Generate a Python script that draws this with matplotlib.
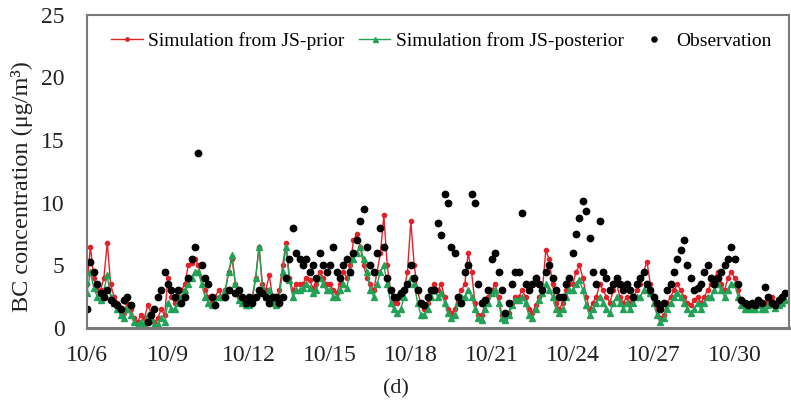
import numpy as np
import matplotlib.pyplot as plt

plt.rcParams['font.family'] = ['Liberation Serif', 'DejaVu Serif']

# 3-hourly values, one row per day from 10/6 to 10/31 (00,03,...,21h)
prior = [
    [3.5, 6.5, 4.0, 3.0, 3.0, 4.0, 6.8, 3.5],
    [2.5, 2.0, 1.5, 1.2, 2.0, 1.5, 0.8, 0.5],
    [1.0, 0.8, 1.8, 1.2, 0.5, 0.8, 1.5, 1.0],
    [4.0, 2.5, 2.0, 2.5, 3.0, 3.5, 5.0, 5.2],
    [5.5, 5.0, 4.0, 3.0, 2.5, 2.0, 2.5, 3.0],
    [2.5, 3.0, 4.5, 5.5, 3.5, 2.5, 2.2, 2.0],
    [2.0, 2.5, 4.0, 6.5, 3.5, 3.0, 4.2, 2.5],
    [2.0, 3.0, 5.0, 6.8, 4.0, 3.0, 3.5, 3.5],
    [3.5, 4.0, 3.8, 3.2, 3.5, 4.5, 4.0, 3.5],
    [3.5, 3.0, 2.8, 3.5, 4.5, 4.0, 5.0, 7.0],
    [7.5, 6.5, 5.0, 4.0, 3.5, 3.0, 4.5, 6.0],
    [9.0, 5.0, 3.0, 2.0, 2.0, 2.5, 3.0, 4.5],
    [8.5, 5.0, 3.0, 1.8, 1.5, 2.0, 3.0, 3.5],
    [3.0, 3.5, 2.5, 1.5, 1.2, 1.5, 2.5, 3.0],
    [3.5, 6.0, 4.5, 2.0, 1.0, 1.0, 2.0, 2.5],
    [3.0, 3.5, 2.5, 1.0, 0.8, 1.2, 2.0, 2.5],
    [2.5, 3.0, 2.5, 1.5, 1.2, 1.8, 2.5, 3.0],
    [6.2, 5.5, 3.5, 2.0, 1.5, 2.0, 3.0, 3.5],
    [3.5, 4.5, 5.0, 4.0, 2.5, 1.5, 2.0, 2.5],
    [3.5, 3.0, 2.5, 2.0, 3.0, 3.5, 2.5, 2.0],
    [2.5, 2.0, 2.5, 3.0, 3.5, 4.5, 5.3, 3.5],
    [2.5, 1.5, 0.8, 1.0, 2.0, 2.5, 3.0, 3.5],
    [3.0, 2.5, 2.0, 1.8, 2.2, 2.5, 2.0, 2.5],
    [3.0, 3.5, 4.0, 4.5, 3.5, 3.0, 4.0, 4.5],
    [4.0, 3.0, 2.2, 2.0, 2.0, 1.8, 1.8, 2.0],
    [1.8, 2.0, 2.2, 2.5, 2.0, 2.2, 2.5, 2.8],
]
posterior = [
    [2.8, 4.5, 3.2, 2.5, 2.2, 3.0, 4.2, 2.5],
    [2.0, 1.5, 1.0, 0.8, 1.5, 1.0, 0.5, 0.2],
    [0.5, 0.3, 1.0, 0.8, 0.2, 0.3, 0.8, 0.5],
    [2.0, 1.5, 1.5, 2.0, 2.5, 3.0, 3.5, 4.0],
    [4.5, 4.5, 3.5, 2.5, 2.0, 1.8, 2.0, 2.5],
    [2.5, 3.0, 4.5, 5.8, 3.5, 2.2, 2.0, 1.8],
    [1.8, 2.2, 4.0, 6.5, 3.2, 2.5, 3.0, 2.0],
    [1.8, 2.5, 4.5, 6.5, 3.8, 2.5, 3.0, 3.0],
    [3.2, 3.5, 3.2, 2.8, 3.0, 4.0, 3.5, 3.0],
    [3.0, 2.5, 2.5, 3.0, 3.5, 3.2, 4.5, 5.5],
    [6.0, 6.5, 5.5, 4.5, 3.0, 2.5, 3.5, 4.5],
    [5.0, 3.5, 2.0, 1.5, 1.2, 1.5, 2.5, 3.5],
    [4.0, 3.5, 2.0, 1.0, 1.0, 1.5, 2.5, 3.0],
    [2.5, 2.8, 2.0, 1.2, 0.8, 1.0, 2.0, 2.5],
    [2.5, 3.0, 2.5, 1.5, 0.8, 0.6, 1.5, 2.0],
    [2.8, 3.0, 2.0, 0.8, 0.6, 1.0, 1.8, 2.2],
    [2.2, 2.5, 2.0, 1.0, 0.8, 1.5, 2.2, 2.8],
    [3.5, 3.0, 2.5, 1.5, 1.2, 1.5, 2.5, 3.0],
    [3.0, 3.5, 3.8, 3.0, 1.8, 1.0, 1.5, 2.0],
    [2.5, 2.0, 1.5, 1.2, 2.0, 2.5, 2.0, 1.5],
    [2.0, 1.5, 2.0, 2.5, 2.5, 3.0, 3.5, 2.8],
    [2.0, 1.0, 0.5, 0.8, 1.5, 2.0, 2.5, 2.8],
    [2.5, 2.0, 1.5, 1.2, 1.5, 2.0, 1.5, 2.0],
    [2.5, 2.5, 3.0, 3.5, 3.0, 2.5, 3.0, 3.5],
    [3.5, 2.5, 1.8, 1.5, 1.5, 1.5, 1.5, 1.8],
    [1.5, 1.5, 1.8, 2.0, 1.6, 1.8, 2.0, 2.2],
]
nan = np.nan
observation = [
    [1.5, 5.3, 4.5, 3.5, 2.8, 2.5, 3.0, 2.2],
    [2.0, 1.8, 1.5, 2.2, 2.5, 1.8, nan, nan],
    [nan, nan, 0.5, 1.0, 1.5, 2.5, 3.0, 4.5],
    [3.5, 3.0, 2.5, 3.0, 2.0, 2.5, 4.0, 5.5],
    [6.5, 14.0, 5.0, 4.0, 3.5, 2.5, 1.8, nan],
    [nan, 2.5, 3.0, nan, 2.8, 3.0, 2.5, 2.0],
    [2.5, 2.0, 2.5, 3.0, 2.8, 2.5, 2.0, 2.5],
    [2.5, 2.0, 2.5, 4.0, 5.5, 8.0, 6.0, 5.5],
    [5.0, 5.5, 4.5, 5.0, 4.0, 6.0, 5.0, 4.5],
    [5.0, 6.5, 4.5, 4.0, 5.0, 5.5, 4.5, 6.0],
    [7.0, 8.5, 9.5, 6.5, 5.0, 4.5, 6.0, 8.0],
    [6.5, 4.0, 3.0, 2.5, 2.5, 2.8, 3.0, 3.5],
    [5.0, 4.0, 3.0, 2.0, 1.8, 2.5, 3.0, 3.0],
    [8.4, 7.4, 10.7, 10.0, 6.5, 6.0, 2.5, 2.0],
    [4.5, 5.0, 10.7, 10.0, 3.5, 2.0, 2.2, 3.0],
    [5.5, 6.0, 4.5, 3.0, 1.2, 2.0, 3.5, 4.5],
    [4.5, 9.2, 3.5, 3.0, 3.5, 4.0, 3.5, 3.0],
    [4.5, 5.0, 4.0, 3.0, 2.5, 2.5, 3.5, 4.0],
    [6.0, 7.5, 8.8, 10.1, 9.3, 7.2, 4.5, 3.5],
    [8.5, 4.5, 4.0, 3.0, 3.5, 4.0, 3.5, 3.0],
    [3.5, 3.0, 2.5, 3.5, 4.0, 4.5, 3.5, 3.0],
    [2.5, 2.0, 1.5, 2.0, 3.0, 3.5, 4.5, 5.5],
    [6.2, 7.0, 5.0, 4.0, 3.0, 3.2, 3.5, 4.5],
    [5.0, 4.0, 3.5, 4.0, 4.5, 5.0, 5.5, 6.5],
    [5.5, 3.5, 2.2, 2.0, 1.8, 2.0, 1.8, 2.2],
    [2.0, 3.3, 2.5, 2.0, 1.8, 2.2, 2.5, 2.8],
]
tick_days = [0, 3, 6, 9, 12, 15, 18, 21, 24]
tick_labels = ['10/6', '10/9', '10/12', '10/15', '10/18', '10/21', '10/24', '10/27', '10/30']

prior = np.array(prior).ravel()
posterior = np.array(posterior).ravel()
observation = np.array(observation).ravel()
t = np.arange(len(prior)) / 8.0

fig = plt.figure(figsize=(7.91, 4.12), dpi=100)
ax = fig.add_axes([0.110, 0.204, 0.887, 0.760])

ax.plot(t, prior, color='#e32129', lw=1.0, marker='o', ms=3,
        label='Simulation from JS-prior')
ax.plot(t, posterior, color='#22a257', lw=1.0, marker='^', ms=4.5,
        label='Simulation from JS-posterior')
ax.plot(t, observation, ls='none', color='black', marker='o', ms=4.6,
        label='Observation')

ax.set_xlim(0, 26)
ax.set_ylim(0, 25)
ax.set_yticks([0, 5, 10, 15, 20, 25])
ax.set_xticks(tick_days)
ax.set_xticklabels(tick_labels)
ax.tick_params(length=0, labelsize=17, colors='#222222')
ax.tick_params(axis='x', pad=12)
ax.tick_params(axis='y', pad=16)
for s in ax.spines.values():
    s.set_color('#7a7a7a')
    s.set_linewidth(1.5)
ax.spines['bottom'].set_linewidth(2.2)

ax.set_ylabel('BC concentration (μg/m³)', fontsize=17.5, color='#222222')
ax.yaxis.set_label_coords(-0.077, 0.45)
fig.text(0.5, 0.045, '(d)', ha='center', fontsize=16, color='#222222')

leg = ax.legend(loc='upper center', ncol=3, frameon=False, fontsize=14,
                bbox_to_anchor=(0.505, 1.0), handlelength=1.6, handletextpad=0.3,
                columnspacing=0.75, markerscale=0.8)

fig.savefig('out.png', dpi=100)
